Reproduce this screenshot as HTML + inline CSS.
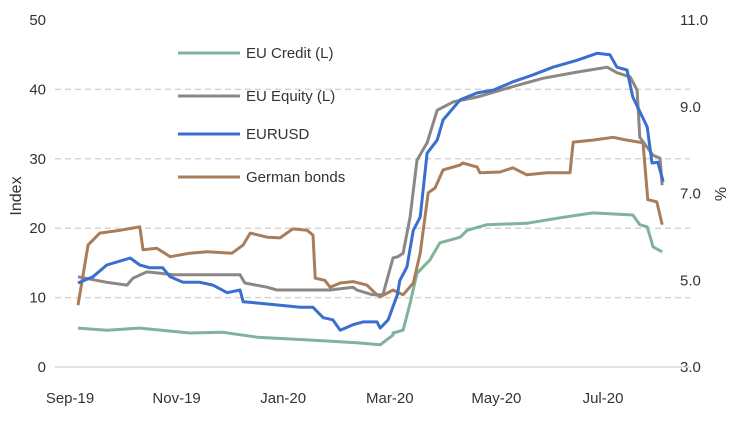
<!DOCTYPE html>
<html><head><meta charset="utf-8"><style>
body{margin:0;background:#fff;}
svg text{font-family:"Liberation Sans",Arial,sans-serif;fill:#333;}
</style></head><body>
<svg id="chart" width="747" height="423" xmlns="http://www.w3.org/2000/svg">
<g id="grid"></g>
<g id="axes"></g>
<g id="series"></g>
<text x="0" y="0" transform="translate(21,196) rotate(-90)" text-anchor="middle" font-size="16">Index</text>
<text x="0" y="0" transform="translate(726,194) rotate(-90)" text-anchor="middle" font-size="16">%</text>
<g font-size="15">
<g><line x1="178" y1="53" x2="240" y2="53" stroke="#7fb39a" stroke-width="3"/><text x="246" y="58">EU Credit (L)</text></g>
<g><line x1="178" y1="96" x2="240" y2="96" stroke="#8c8784" stroke-width="3"/><text x="246" y="101">EU Equity (L)</text></g>
<g><line x1="178" y1="134" x2="240" y2="134" stroke="#3a6fcf" stroke-width="3"/><text x="246" y="139">EURUSD</text></g>
<g><line x1="178" y1="177" x2="240" y2="177" stroke="#a97d5a" stroke-width="3"/><text x="246" y="182">German bonds</text></g>
</g>
</svg>
<script>
const xLabels=["Sep-19","Nov-19","Jan-20","Mar-20","May-20","Jul-20"];
const xLabelMonths=[0,2,4,6,8,10];
const leftTicks=[0,10,20,30,40,50];
const rightTicks=["3.0","5.0","7.0","9.0","11.0"];
const creditT=[0.15,0.69,1.31,2.25,2.87,3.51,4.45,5.38,5.82,6.06,6.06,6.25,6.38,6.51,6.75,6.94,7.32,7.45,7.82,8.57,9.19,9.81,10.56,10.69,10.83,10.94,11.11];
const creditV=[5.6,5.3,5.6,4.9,5.0,4.3,3.9,3.5,3.2,4.6,4.9,5.3,9.2,13.5,15.4,17.9,18.7,19.7,20.5,20.7,21.5,22.2,21.9,20.5,20.2,17.3,16.6];
const equityT=[0.15,0.69,1.07,1.18,1.44,1.69,1.93,3.19,3.28,3.70,3.88,4.88,5.31,5.38,5.68,5.87,6.06,6.15,6.25,6.38,6.51,6.70,6.89,7.19,7.64,8.26,8.87,9.51,10.08,10.26,10.51,10.64,10.69,10.94,11.07,11.11];
const equityV=[13,12.2,11.8,12.8,13.7,13.5,13.3,13.3,12.1,11.5,11.1,11.1,11.5,11.1,10.4,10.4,15.7,15.9,16.4,21.6,29.8,32.3,37,38.2,38.9,40.3,41.6,42.5,43.2,42.4,41.8,39.9,33.1,30.5,30.1,26.2];
const eurusdT=[0.15,0.43,0.69,1.13,1.31,1.50,1.74,1.88,2.12,2.44,2.68,2.95,3.19,3.25,3.56,3.94,4.32,4.56,4.75,4.93,5.07,5.31,5.50,5.76,5.82,5.97,6.14,6.19,6.32,6.44,6.57,6.70,6.89,7.00,7.32,7.64,7.94,8.31,8.69,9.06,9.51,9.89,10.13,10.26,10.45,10.56,10.83,10.92,11.03,11.13];
const eurusdV=[12.1,13,14.7,15.7,14.7,14.3,14.3,13,12.2,12.2,11.8,10.7,11.1,9.4,9.2,8.9,8.6,8.6,7.1,6.8,5.3,6.1,6.5,6.5,5.6,6.8,10.4,12.5,14.4,19.7,21.6,30.8,32.7,35.6,38.5,39.5,39.9,41.1,42.1,43.2,44.2,45.2,45,43.2,42.8,38.9,34.6,29.4,29.5,26.7];
const bondsT=[0.15,0.34,0.56,0.94,1.31,1.37,1.63,1.88,2.25,2.57,3.04,3.25,3.38,3.70,3.94,4.18,4.45,4.56,4.60,4.78,4.88,5.07,5.31,5.57,5.76,5.82,6.06,6.25,6.44,6.57,6.72,6.85,7.00,7.32,7.37,7.64,7.69,8.07,8.31,8.57,8.95,9.38,9.44,9.81,10.19,10.45,10.75,10.84,11.01,11.11];
const bondsV=[8.9,17.6,19.3,19.7,20.2,16.9,17.1,15.9,16.4,16.6,16.4,17.6,19.3,18.7,18.6,19.9,19.7,19.0,12.8,12.5,11.5,12.1,12.3,11.8,10.4,10.1,11.1,10.4,12.1,16.4,25.1,25.8,28.4,29.1,29.4,28.8,28,28.1,28.7,27.7,28,28,32.4,32.7,33.1,32.7,32.3,24.1,23.8,20.5];

const NS="http://www.w3.org/2000/svg";
const X0=55,X1=690,Y0=367,Y1=20;
function xs(m){return 70+53.3*m;}
function ys(v){return Y0-(v/50)*(Y0-Y1);}
function mk(tag,attrs,parent){const e=document.createElementNS(NS,tag);for(const k in attrs)e.setAttribute(k,attrs[k]);parent.appendChild(e);return e;}
const grid=document.getElementById('grid'),axes=document.getElementById('axes'),ser=document.getElementById('series');
leftTicks.forEach((v,i)=>{
  if(v>0&&v<50){const l=mk('line',{x1:X0,x2:X1,y1:ys(v),y2:ys(v),stroke:'#d4d4d4','stroke-width':1.5,'stroke-dasharray':'6,4'},grid);
  
  }
  const t=mk('text',{x:46,y:ys(v)+5,'text-anchor':'end','font-size':15},axes);t.textContent=v;
  
  
});
rightTicks.forEach((s,i)=>{
  const t=mk('text',{x:680,y:ys(i*12.5)+5,'font-size':15},axes);t.textContent=s;
  
  
});
const base=mk('line',{x1:X0,x2:X1,y1:Y0,y2:Y0,stroke:'#d9d9d9','stroke-width':1.5},axes);


xLabels.forEach((s,i)=>{
  const t=mk('text',{x:xs(xLabelMonths[i]),y:403,'text-anchor':'middle','font-size':15},axes);t.textContent=s;
  
  
});
function draw(T,V,color,name){
  const p=mk('polyline',{points:T.map((m,i)=>xs(m).toFixed(1)+','+ys(V[i]).toFixed(1)).join(' '),fill:'none',stroke:color,'stroke-width':3,'stroke-linejoin':'round'},ser);
  
  
}
draw(creditT,creditV,'#7fb39a','eu-credit-line');
draw(bondsT,bondsV,'#a97d5a','german-bonds-line');
draw(equityT,equityV,'#8c8784','eu-equity-line');
draw(eurusdT,eurusdV,'#3a6fcf','eurusd-line');
</script>
</body></html>
